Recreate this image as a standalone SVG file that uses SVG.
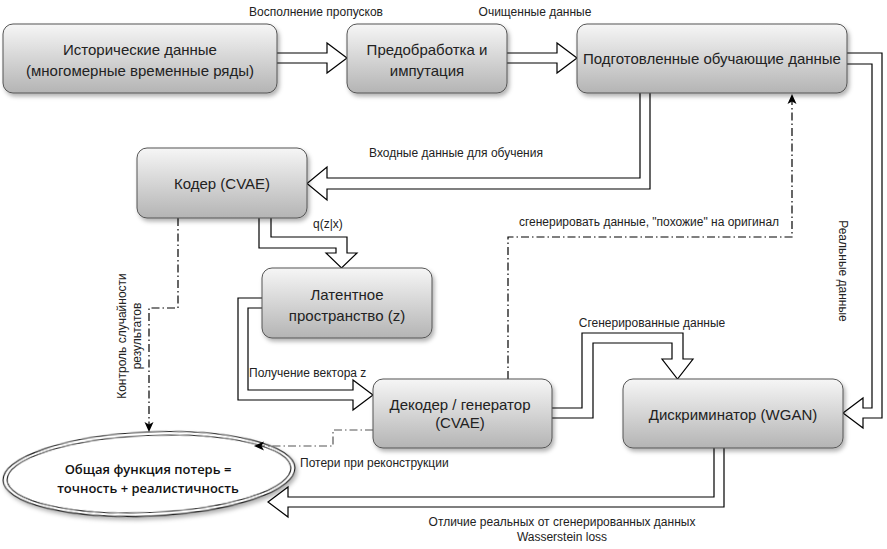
<svg xmlns="http://www.w3.org/2000/svg" width="887" height="549" viewBox="0 0 887 549">
<defs>
<linearGradient id="g" x1="0" y1="0" x2="0" y2="1">
<stop offset="0" stop-color="#f6f6f6"/>
<stop offset="1" stop-color="#b4b4b4"/>
</linearGradient>
<filter id="sh" x="-10%" y="-10%" width="130%" height="140%">
<feDropShadow dx="2" dy="3" stdDeviation="2" flood-color="#000" flood-opacity="0.3"/>
</filter>
<marker id="ah" markerWidth="12" markerHeight="12" refX="10" refY="5.5" orient="auto" markerUnits="userSpaceOnUse">
<path d="M0,1 L10,5.5 L0,10 L2.5,5.5 Z" fill="#000"/>
</marker>
<style>
.node rect{fill:url(#g);stroke:#555;stroke-width:1;filter:url(#sh)}
.nt{font-family:"Liberation Sans",Arial,sans-serif;font-size:15px;fill:#222;text-anchor:middle}
.lb{font-family:"Liberation Sans",Arial,sans-serif;font-size:12px;fill:#222}
.flow{fill:#fff;stroke:#000;stroke-width:1.2}
.dd{fill:none;stroke:#000;stroke-width:1.2;stroke-dasharray:8,3,1.5,3;marker-end:url(#ah)}
.et{font-family:"Open Sans","Liberation Sans",sans-serif;font-size:13px;font-weight:600;fill:#111;text-anchor:middle}
</style>
</defs>
<rect width="887" height="549" fill="#fff"/>

<g id="n8">
<g transform="rotate(-2.5 149 474)" style="filter:url(#sh)">
<ellipse cx="149" cy="474" rx="146" ry="42" fill="#fff" stroke="#222" stroke-width="1.2"/>
<ellipse cx="149" cy="474" rx="142" ry="38.5" fill="none" stroke="#222" stroke-width="1.2"/>
</g>
<text class="et" x="148" y="474">Общая функция потерь =</text>
<text class="et" x="148" y="493">точность + реалистичность</text>
</g>

<g id="connectors">
<path class="flow" d="M277,53 H327 V43 L347,58 L327,73 V63 H277"/>
<path class="flow" d="M507,53 H557 V43 L577,58 L557,73 V63 H507"/>
<path class="flow" d="M640,93 V178 H327 V167 L307,183.5 L327,200 V189 H650 V93"/>
<path class="flow" d="M259,218 V248 H336 V253 H326 L341.5,268 L357,253 H347 V237 H271 V218"/>
<path class="flow" d="M262,298 H238 V400 H353 V410 L373,395 L353,380 V390 H248 V308 H262"/>
<path class="flow" d="M552,408 H582 V333 H683 V359 H693 L677.5,379 L662,359 H672 V343 H593 V418 H552"/>
<path class="flow" d="M847,53 H882 V418 H863 V428 L843,413 L863,398 V408 H872 V64 H847"/>
<path class="flow" d="M714,448 V497 H288 V487 L268,502 L288,517 V507 H724 V448"/>
<path class="dd" d="M178,218 V308 H149 V432"/>
<path class="dd" d="M373,430 H333 V446 H254" style="stroke:#555"/>
<path class="dd" d="M508,379 V237 H792 V94"/>
<text class="lb" x="316" y="16" text-anchor="middle">Восполнение пропусков</text>
<text class="lb" x="535" y="16" text-anchor="middle">Очищенные данные</text>
<text class="lb" x="456" y="157" text-anchor="middle">Входные данные для обучения</text>
<text class="lb" x="313" y="228">q(z|x)</text>
<text class="lb" x="649" y="226" text-anchor="middle">сгенерировать данные, "похожие" на оригинал</text>
<text class="lb" transform="translate(839,271) rotate(90)" text-anchor="middle">Реальные данные</text>
<text class="lb" transform="translate(126,336) rotate(-90)" text-anchor="middle">Контроль случайности</text>
<text class="lb" transform="translate(141,336) rotate(-90)" text-anchor="middle">результатов</text>
<text class="lb" x="652" y="327" text-anchor="middle">Сгенерированные данные</text>
<text class="lb" x="249" y="377">Получение вектора z</text>
<text class="lb" x="300" y="467">Потери при реконструкции</text>
<text class="lb" x="562" y="526" text-anchor="middle">Отличие реальных от сгенерированных данных</text>
<text class="lb" x="562" y="541" text-anchor="middle">Wasserstein loss</text>
</g>

<g id="n1" class="node"><rect x="3" y="24" width="274" height="69" rx="10"/>
<text class="nt" x="140" y="55">Исторические данные</text>
<text class="nt" x="140" y="76">(многомерные временные ряды)</text></g>
<g id="n2" class="node"><rect x="347" y="24" width="160" height="69" rx="10"/>
<text class="nt" x="427" y="55">Предобработка и</text>
<text class="nt" x="427" y="76">импутация</text></g>
<g id="n3" class="node"><rect x="577" y="24" width="270" height="69" rx="10"/>
<text class="nt" x="712" y="64">Подготовленные обучающие данные</text></g>
<g id="n4" class="node"><rect x="137" y="148" width="170" height="70" rx="10"/>
<text class="nt" x="222" y="189">Кодер (CVAE)</text></g>
<g id="n5" class="node"><rect x="262" y="268" width="170" height="70" rx="10"/>
<text class="nt" x="347" y="300">Латентное</text>
<text class="nt" x="347" y="321">пространство (z)</text></g>
<g id="n6" class="node"><rect x="373" y="379" width="179" height="69" rx="10"/>
<text class="nt" x="460" y="410">Декодер / генератор</text>
<text class="nt" x="460" y="428">(CVAE)</text></g>
<g id="n7" class="node"><rect x="623" y="379" width="220" height="69" rx="10"/>
<text class="nt" x="733" y="420">Дискриминатор (WGAN)</text></g>
</svg>
